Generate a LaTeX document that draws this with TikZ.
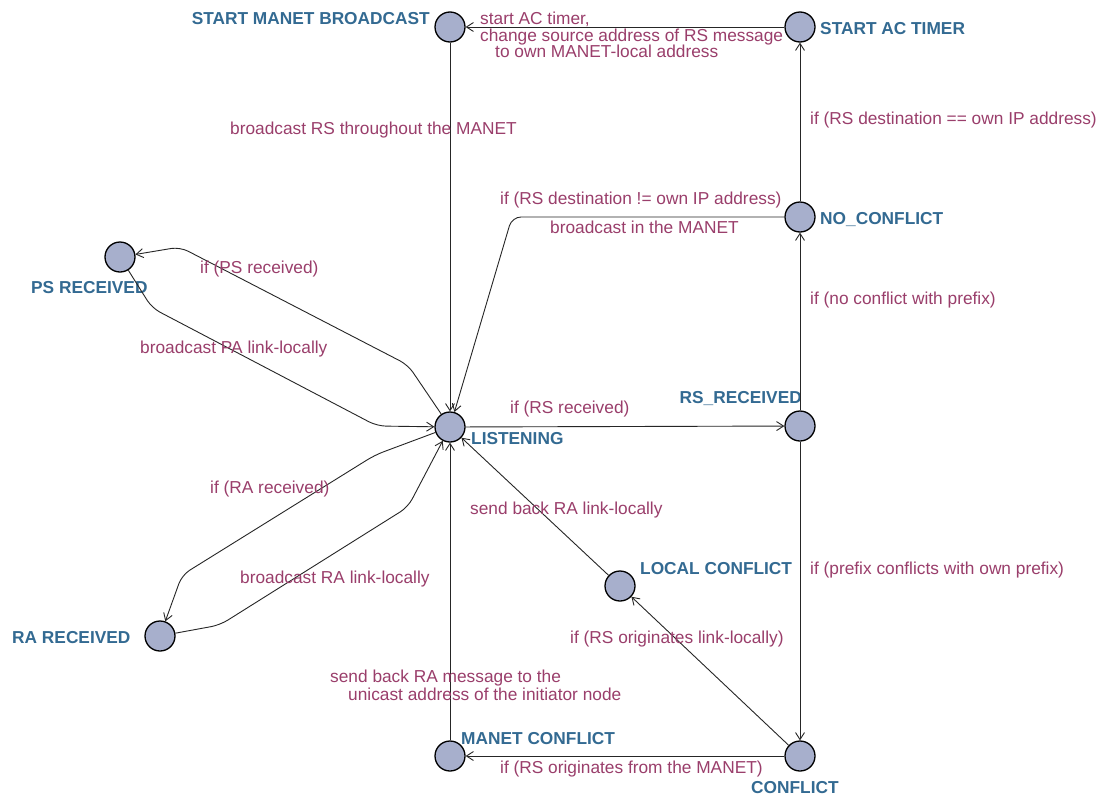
\documentclass[tikz,border=0pt]{standalone}
\usepackage{fontspec}
\setmainfont{Liberation Sans}
\usetikzlibrary{arrows.meta}
\definecolor{statefill}{HTML}{A7AFCC}
\definecolor{statename}{HTML}{336A92}
\definecolor{guard}{HTML}{9A3E6B}

\tikzset{
  state/.style={circle, draw=black, line width=1.3pt, fill=statefill,
                minimum size=30pt, inner sep=0pt},
  sname/.style={font=\fontsize{17.3}{17}\selectfont\bfseries, text=statename,
                inner sep=0pt},
  glabel/.style={font=\fontsize{17.3}{16.5}\selectfont, text=guard,
                 inner sep=0pt, align=left},
  edge/.style={draw=black!85, line width=0.9pt, rounded corners=9pt,
               -{Straight Barb[length=7pt,width=9pt]}},
}

\begin{document}
\begin{tikzpicture}[x=1pt,y=-1pt]
  % canvas
  \fill[white] (0,0) rectangle (1105,798);
  \useasboundingbox (0,0) rectangle (1105,798);

  % states
  \node[state] (smb) at (450,27)  {};
  \node[state] (act) at (800,27)  {};
  \node[state] (nc)  at (800,217) {};
  \node[state] (rsr) at (800,426) {};
  \node[state] (cf)  at (800,756) {};
  \node[state] (lc)  at (620,586) {};
  \node[state] (mc)  at (450,756) {};
  \node[state] (lis) at (450,427) {};
  \node[state] (ps)  at (120,257) {};
  \node[state] (ra)  at (160,636) {};

  % state names
  \node[sname, anchor=base east] (smbname) at (430,24)  {START MANET BROADCAST};
  \node[sname, anchor=base west] (actname) at (820,34)  {START AC TIMER};
  \node[sname, anchor=base west] (ncname)  at (820,224) {NO\_CONFLICT};
  \node[sname, anchor=base east] (rsrname) at (802,403) {RS\_RECEIVED};
  \node[sname, anchor=base west] (lisname) at (471,444) {LISTENING};
  \node[sname, anchor=base west] (psname)  at (31,293)  {PS RECEIVED};
  \node[sname, anchor=base west] (raname)  at (12,643)  {RA RECEIVED};
  \node[sname, anchor=base west] (lcname)  at (640,574) {LOCAL CONFLICT};
  \node[sname, anchor=base west] (mcname)  at (461,744) {MANET CONFLICT};
  \node[sname, anchor=base west] (cfname)  at (751,793) {CONFLICT};

  % bend points
  \coordinate (ncbend) at (512,217);
  \coordinate (pa1) at (408,365);
  \coordinate (pa2) at (180,247);
  \coordinate (pb1) at (152,308);
  \coordinate (pb2) at (377,426);
  \coordinate (ra1) at (375,455);
  \coordinate (ra2) at (182,575);
  \coordinate (rb1) at (220,625);
  \coordinate (rb2) at (408,507);

  % transitions
  \draw[edge] (act) -- (smb);
  \draw[edge] (smb) -- (lis);
  \draw[edge] (nc) -- (act);
  \draw[edge] (nc) -- (ncbend) -- (lis);
  \draw[edge] (rsr) -- (nc);
  \draw[edge] (lis) -- (rsr);
  \draw[edge] (rsr) -- (cf);
  \draw[edge] (cf) -- (mc);
  \draw[edge] (cf) -- (lc);
  \draw[edge] (lc) -- (lis);
  \draw[edge] (mc) -- (lis);
  \draw[edge] (lis) -- (pa1) -- (pa2) -- (ps);
  \draw[edge] (ps) -- (pb1) -- (pb2) -- (lis);
  \draw[edge] (lis) -- (ra1) -- (ra2) -- (ra);
  \draw[edge] (ra) -- (rb1) -- (rb2) -- (lis);

  % guards and actions
  \node[glabel, anchor=north west] (g1) at (480,12)
    {start AC timer,\\change source address of RS message\\\hspace*{15pt}to own MANET-local address};
  \node[glabel, anchor=base west] (g2)  at (230,134) {broadcast RS throughout the MANET};
  \node[glabel, anchor=base west] (g3)  at (810,124) {if (RS destination == own IP address)};
  \node[glabel, anchor=base west] (g4)  at (500,204) {if (RS destination != own IP address)};
  \node[glabel, anchor=base west] (g5)  at (550,233) {broadcast in the MANET};
  \node[glabel, anchor=base west] (g6)  at (810,304) {if (no conflict with prefix)};
  \node[glabel, anchor=base west] (g7)  at (510,413) {if (RS received)};
  \node[glabel, anchor=base west] (g8)  at (200,273) {if (PS received)};
  \node[glabel, anchor=base west] (g9)  at (140,353) {broadcast PA link-locally};
  \node[glabel, anchor=base west] (g10) at (210,493) {if (RA received)};
  \node[glabel, anchor=base west] (g11) at (240,583) {broadcast RA link-locally};
  \node[glabel, anchor=base west] (g12) at (470,514) {send back RA link-locally};
  \node[glabel, anchor=base west] (g13) at (810,574) {if (prefix conflicts with own prefix)};
  \node[glabel, anchor=base west] (g14) at (570,643) {if (RS originates link-locally)};
  \node[glabel, anchor=north west, font=\fontsize{17.3}{18}\selectfont] (g15) at (330,670)
    {send back RA message to the\\\hspace*{18pt}unicast address of the initiator node};
  \node[glabel, anchor=base west] (g16) at (500,773) {if (RS originates from the MANET)};
\end{tikzpicture}
\end{document}
